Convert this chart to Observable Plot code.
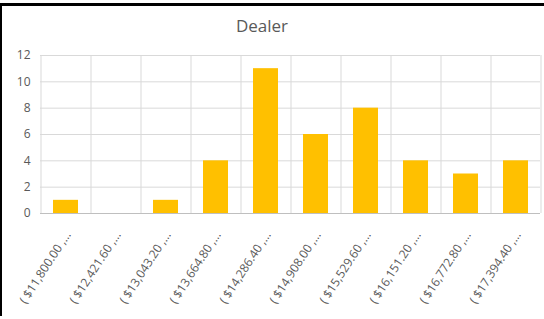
<!DOCTYPE html>
<html>
<head>
<meta charset="utf-8">
<script src="https://cdn.jsdelivr.net/npm/d3@7"></script>
<script src="https://cdn.jsdelivr.net/npm/@observablehq/plot@0.6"></script>
<style>
  html, body { margin: 0; padding: 0; background: #fff; }
  #wrap {
    position: relative;
    width: 542px; height: 310px;
    margin-top: 3px;
    border-top: 3px solid #000;
    border-left: 2px solid #000;
    overflow: hidden;
    font-family: "Open Sans", sans-serif;
  }
  #title {
    position: absolute; top: 11px; left: 260px;
    transform: translateX(-50%);
    font-size: 17px; line-height: 1; color: #595959;
    white-space: nowrap;
  }
  #chart { position: absolute; top: 40px; left: 0; }
</style>
</head>
<body>
<div id="wrap">
  <div id="title">Dealer</div>
  <div id="chart"></div>
</div>
<script>
const categories = [
  "( $11,800.00 ,…", "( $12,421.60 ,…", "( $13,043.20 ,…", "( $13,664.80 ,…",
  "( $14,286.40 ,…", "( $14,908.00 ,…", "( $15,529.60 ,…", "( $16,151.20 ,…",
  "( $16,772.80 ,…", "( $17,394.40 ,…"
];
const counts = [1, 0, 1, 4, 11, 6, 8, 4, 3, 4];
const yTicks = [0, 2, 4, 6, 8, 10, 12];

const data = categories.map((c, i) => ({bin: c, count: counts[i]}));

const W = 542, H = 270, mL = 38, mR = 4, mT = 9, mB = 103;
const step = (W - mL - mR) / categories.length;

const chart = Plot.plot({
  width: W, height: H,
  marginLeft: mL, marginRight: mR, marginTop: mT, marginBottom: mB,
  style: {fontFamily: "Open Sans, sans-serif", color: "#595959", background: "transparent"},
  x: {domain: categories, paddingInner: 0.5, paddingOuter: 0.25, align: 0.5, axis: null},
  y: {domain: [0, 12], ticks: yTicks, label: null},
  marks: [
    Plot.gridY(yTicks.filter(d => d > 0), {stroke: "#d9d9d9", strokeOpacity: 1}),
    Plot.ruleX(categories, {x: d => d, dx: -step / 2, stroke: "#d9d9d9"}),
    Plot.ruleX(categories.slice(-1), {x: d => d, dx: step / 2, stroke: "#d9d9d9"}),
    Plot.barY(data, {x: "bin", y: "count", fill: "#FFC000"}),
    Plot.ruleY([0], {stroke: "#bfbfbf"}),
    Plot.axisY({ticks: yTicks, label: null, tickSize: 0, tickPadding: 10, fontSize: 12, fill: "#595959"}),
    Plot.text(categories, {
      x: d => d, frameAnchor: "bottom", dy: 19, dx: 2,
      rotate: -57, textAnchor: "end", lineAnchor: "middle",
      fontSize: 12, fill: "#595959"
    })
  ]
});
document.getElementById("chart").appendChild(chart);
</script>
</body>
</html>
